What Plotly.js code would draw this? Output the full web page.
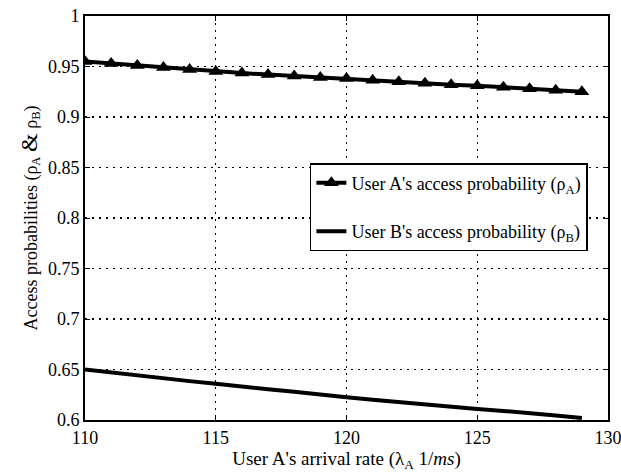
<!DOCTYPE html>
<html><head><meta charset="utf-8">
<script src="https://cdn.plot.ly/plotly-3.0.1.min.js"></script>
<style>body{margin:0;background:#fff}#c{width:621px;height:473px}</style>
</head><body><div id="c"></div>
<script>
const arrivalRate = [110,111,112,113,114,115,116,117,118,119,120,121,122,123,124,125,126,127,128,129];
const rhoA = [0.955,0.953,0.951,0.949,0.947,0.945,0.9435,0.942,0.9405,0.939,0.938,0.9365,0.935,0.9335,0.932,0.931,0.9295,0.928,0.9265,0.925];
const rhoB = [0.650,0.647,0.644,0.641,0.6385,0.636,0.633,0.6305,0.628,0.625,0.6225,0.620,0.6175,0.615,0.613,0.611,0.609,0.607,0.6045,0.602];
const xTicks = [110,115,120,125,130];
const yTicks = [0.6,0.65,0.7,0.75,0.8,0.85,0.9,0.95,1];
const yTickText = ['0.6','0.65','0.7','0.75','0.8','0.85','0.9','0.95','1'];
const nameA = "User A's access probability (ρ<sub>A</sub>)";
const nameB = "User B's access probability (ρ<sub>B</sub>)";

const font = 'Liberation Serif';
const traces = [
  {x: arrivalRate, y: rhoA, name: nameA, legendgroup: 'a', mode: 'lines+markers', type: 'scatter',
   line: {color: '#000', width: 4}, marker: {symbol: 'triangle-up', size: 13, color: '#000'}},
  {x: arrivalRate, y: rhoB, name: nameB, legendgroup: 'b', mode: 'lines', type: 'scatter',
   line: {color: '#000', width: 4}}
];
const axisCommon = {
  showline: true, linecolor: '#000', linewidth: 2, mirror: 'ticks',
  ticks: 'inside', ticklen: 5, tickwidth: 1, tickcolor: '#000',
  showgrid: true, gridcolor: '#000', gridwidth: 1.2, griddash: '2px,5px',
  zeroline: false, tickfont: {family: font, size: 18, color: '#000'}
};
const layout = {
  width: 621, height: 473,
  margin: {l: 85, r: 13, t: 16, b: 53},
  paper_bgcolor: '#fff', plot_bgcolor: '#fff',
  font: {family: font, color: '#000'},
  xaxis: Object.assign({}, axisCommon, {
    range: [110,130], tickvals: xTicks, ticklabeloverflow: 'allow',
    title: {text: "User A's arrival rate (λ<sub>A</sub> 1/<i>ms</i>)", font: {family: font, size: 19}, standoff: 3}
  }),
  yaxis: Object.assign({}, axisCommon, {
    range: [0.6,1], tickvals: yTicks, ticktext: yTickText,
    title: {text: "Access probabilities (ρ<sub>A</sub> <span style=\"font-size:24px\">&amp;</span> ρ<sub>B</sub>)", font: {family: font, size: 18}, standoff: 6}
  }),
  showlegend: true,
  legend: {x: 0.43, y: 0.636, xanchor: 'left', yanchor: 'top',
    bgcolor: '#fff', bordercolor: '#000', borderwidth: 1.5,
    font: {family: font, size: 18, color: '#000'}, tracegroupgap: 22}
};
Plotly.newPlot('c', traces, layout, {displayModeBar: false, staticPlot: true});
</script></body></html>
